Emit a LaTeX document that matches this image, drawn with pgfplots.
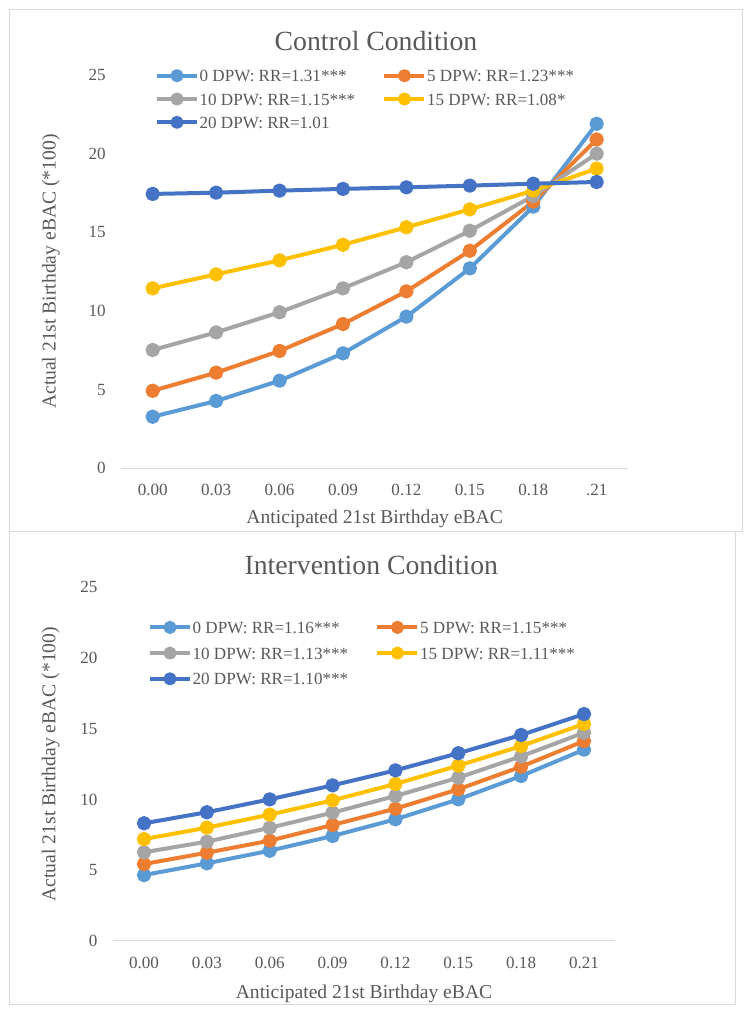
\documentclass[border=0pt]{standalone}
\usepackage{fontspec}
\setmainfont{Liberation Serif}
\usepackage{pgfplots}
\pgfplotsset{compat=1.18}
\definecolor{cA}{HTML}{5B9BD5}
\definecolor{cB}{HTML}{ED7D31}
\definecolor{cC}{HTML}{A5A5A5}
\definecolor{cD}{HTML}{FFC000}
\definecolor{cE}{HTML}{4472C4}
\definecolor{txt}{HTML}{595959}
\definecolor{gridc}{HTML}{D9D9D9}

\pgfplotsset{
  exstyle/.style={
    scale only axis,
    xmin=-0.5, xmax=7.5, ymin=0, ymax=25,
    xtick={0,...,7}, ytick={0,5,...,25},
    axis x line=bottom, axis y line=left,
    x axis line style={-, draw=gridc, line width=0.75pt},
    y axis line style={draw=none},
    major tick length=0pt,
    tick style={draw=none},
    /pgf/number format/assume math mode=true,
    tick label style={font=\fontsize{12.8}{15}\selectfont, text=txt},
    yticklabel style={anchor=east, inner sep=0pt, xshift=-11.25pt},
    label style={font=\fontsize{14.7}{17}\selectfont, text=txt},
    title style={font=\fontsize{20.8}{24}\selectfont, text=txt},
    every axis plot/.append style={line width=3pt, line join=round, mark=*, mark size=3.9pt, mark options={solid}},
    legend image code/.code={\draw[mark repeat=2,mark phase=2,#1, mark size=3.4pt] plot coordinates {(0pt,0pt) (15pt,0pt) (30pt,0pt)};},
    legend cell align=left,
    legend columns=2,
    legend style={draw=none, fill=none, inner sep=0pt, outer sep=0pt,
      font=\fontsize{12.8}{15}\selectfont, text=txt,
      nodes={inner sep=0pt, text height=9pt, text depth=0pt, text=txt},
      /tikz/every odd column/.append style={column sep=0.5pt},
      /tikz/every even column/.append style={column sep=20.5pt}},
  }
}

\pgfplotstableread{
x a b c d e
0 3.28 4.93 7.52 11.44 17.44
1 4.28 6.08 8.64 12.33 17.52
2 5.57 7.46 9.92 13.22 17.65
3 7.31 9.17 11.44 14.21 17.76
4 9.64 11.25 13.10 15.32 17.86
5 12.71 13.83 15.10 16.46 17.97
6 16.63 16.95 17.31 17.65 18.09
7 21.90 20.90 20.00 19.05 18.20
}\control

\pgfplotstableread{
x a b c d e
0 4.66 5.44 6.27 7.20 8.32
1 5.49 6.24 7.02 8.01 9.10
2 6.38 7.09 8.00 8.93 10.01
3 7.42 8.20 9.07 9.94 11.00
4 8.60 9.35 10.25 11.10 12.06
5 10.01 10.72 11.54 12.39 13.27
6 11.66 12.32 13.05 13.78 14.56
7 13.52 14.13 14.72 15.34 16.04
}\interv

\begin{document}
\begin{tikzpicture}
\useasboundingbox (0,0) rectangle (563.25pt,761.25pt);
\fill[white] (0,0) rectangle (563.25pt,761.25pt);
% top frame
\draw[gridc, line width=0.75pt] (7.125pt,753.75pt) rectangle (556.5pt,362.625pt);
% bottom frame
\draw[gridc, line width=0.75pt] (7.125pt,362.25pt) rectangle (551.25pt,7.875pt);

\begin{axis}[exstyle,
  at={(90.75pt,410.0pt)}, anchor=south west,
  width=380.55pt, height=295pt,
  xticklabels={0.00,0.03,0.06,0.09,0.12,0.15,0.18,.21},
  xticklabel style={anchor=center, inner sep=0pt, yshift=-16.3pt},
  title={Control Condition},
  title style={at={([xshift=1pt,yshift=12.2pt]axis description cs:0.5,1)}, anchor=base},
  xlabel={Anticipated 21st Birthday eBAC},
  xlabel style={at={([yshift=-41.4pt]axis description cs:0.5,0)}, anchor=base},
  ylabel={Actual 21st Birthday eBAC (*100)},
  ylabel style={at={([xshift=-49pt]axis description cs:0,0.5)}, anchor=base},
  legend style={at={(axis description cs:0.067,1.0135)}, anchor=north west, row sep=8.5pt},
]
\addplot[color=cA] table[x=x,y=a] {\control};
\addlegendentry{0 DPW: RR=1.31***}
\addplot[color=cB] table[x=x,y=b] {\control};
\addlegendentry{5 DPW: RR=1.23***}
\addplot[color=cC] table[x=x,y=c] {\control};
\addlegendentry{10 DPW: RR=1.15***}
\addplot[color=cD] table[x=x,y=d] {\control};
\addlegendentry{15 DPW: RR=1.08*}
\addplot[color=cE] table[x=x,y=e] {\control};
\addlegendentry{20 DPW: RR=1.01}
\end{axis}

\begin{axis}[exstyle,
  at={(84.45pt,55.5pt)}, anchor=south west,
  width=377.1pt, height=265.3pt,
  xticklabels={0.00,0.03,0.06,0.09,0.12,0.15,0.18,0.21},
  xticklabel style={anchor=center, inner sep=0pt, yshift=-16.5pt},
  title={Intervention Condition},
  title style={at={([xshift=5.5pt,yshift=3.75pt]axis description cs:0.5,1)}, anchor=base},
  xlabel={Anticipated 21st Birthday eBAC},
  xlabel style={at={([yshift=-43pt]axis description cs:0.5,0)}, anchor=base},
  ylabel={Actual 21st Birthday eBAC (*100)},
  ylabel style={at={([xshift=-43pt]axis description cs:0,0.5)}, anchor=base},
  legend style={at={(axis description cs:0.0704,0.9036)}, anchor=north west, row sep=10.3pt},
]
\addplot[color=cA] table[x=x,y=a] {\interv};
\addlegendentry{0 DPW: RR=1.16***}
\addplot[color=cB] table[x=x,y=b] {\interv};
\addlegendentry{5 DPW: RR=1.15***}
\addplot[color=cC] table[x=x,y=c] {\interv};
\addlegendentry{10 DPW: RR=1.13***}
\addplot[color=cD] table[x=x,y=d] {\interv};
\addlegendentry{15 DPW: RR=1.11***}
\addplot[color=cE] table[x=x,y=e] {\interv};
\addlegendentry{20 DPW: RR=1.10***}
\end{axis}
\end{tikzpicture}
\end{document}
